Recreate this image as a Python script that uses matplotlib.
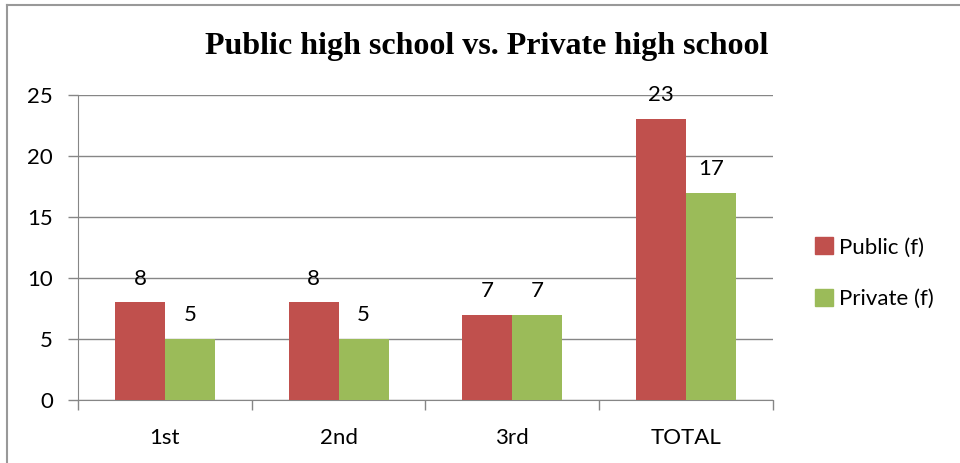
import matplotlib
matplotlib.use("Agg")
import matplotlib.pyplot as plt
import numpy as np
from matplotlib.patches import Patch
from matplotlib.lines import Line2D

# chart data
categories = ["1st", "2nd", "3rd", "TOTAL"]
public_f = [8, 8, 7, 23]
private_f = [5, 5, 7, 17]
series_names = ["Public (f)", "Private (f)"]
y_ticks = [0, 5, 10, 15, 20, 25]

red = "#C0504D"
green = "#9BBB59"
grid_gray = "#868686"
label_font = "Lato"
fs = 16

fig = plt.figure(figsize=(9.6, 4.63), dpi=100)
ax = fig.add_axes([0.0813, 0.136, 0.7237, 0.659])

x = np.arange(len(categories))
w = 0.288
ax.bar(x - w / 2, public_f, w, color=red, zorder=3)
ax.bar(x + w / 2, private_f, w, color=green, zorder=3)

# data labels above each bar
for xi, v in zip(x - w / 2, public_f):
    ax.annotate(str(v), (xi, v), xytext=(0, 10), textcoords="offset points",
                ha="center", va="bottom", fontsize=fs, family=label_font)
for xi, v in zip(x + w / 2, private_f):
    ax.annotate(str(v), (xi, v), xytext=(0, 10), textcoords="offset points",
                ha="center", va="bottom", fontsize=fs, family=label_font)

ax.set_xlim(-0.5, len(categories) - 0.5)
ax.set_ylim(0, 25)
ax.set_yticks(y_ticks)
ax.set_yticklabels([str(t) for t in y_ticks], fontsize=fs, family=label_font)
ax.yaxis.grid(True, color=grid_gray, linewidth=1, zorder=0)

# category labels in the middle, tick marks between categories
ax.set_xticks(x)
ax.set_xticklabels(categories, fontsize=fs, family=label_font)
ax.set_xticks(np.arange(-0.5, len(categories)), minor=True)
ax.tick_params(axis="x", which="major", length=0, pad=20)
ax.tick_params(axis="x", which="minor", length=7, color=grid_gray, width=1)
ax.tick_params(axis="y", length=7, color=grid_gray, width=1, pad=11)

for side in ["top", "right"]:
    ax.spines[side].set_visible(False)
ax.spines["left"].set_color(grid_gray)
ax.spines["bottom"].set_color(grid_gray)

fig.text(0.507, 0.900, "Public high school vs. Private high school",
         ha="center", va="center", fontsize=23, fontweight="bold",
         family="Liberation Serif")

handles = [Patch(color=red), Patch(color=green)]
fig.legend(handles, series_names, loc="center left",
           bbox_to_anchor=(0.828, 0.41), frameon=False,
           prop={"family": label_font, "size": fs},
           handlelength=0.8, handleheight=0.8, handletextpad=0.3,
           labelspacing=1.4)

# chart border (top and left edge visible)
fig.add_artist(Line2D([0.007, 1.0], [0.989, 0.989], color="#999999",
                      linewidth=1.5, transform=fig.transFigure))
fig.add_artist(Line2D([0.007, 0.007], [0.0, 0.989], color="#999999",
                      linewidth=1.5, transform=fig.transFigure))

fig.savefig("out.png", dpi=100)
